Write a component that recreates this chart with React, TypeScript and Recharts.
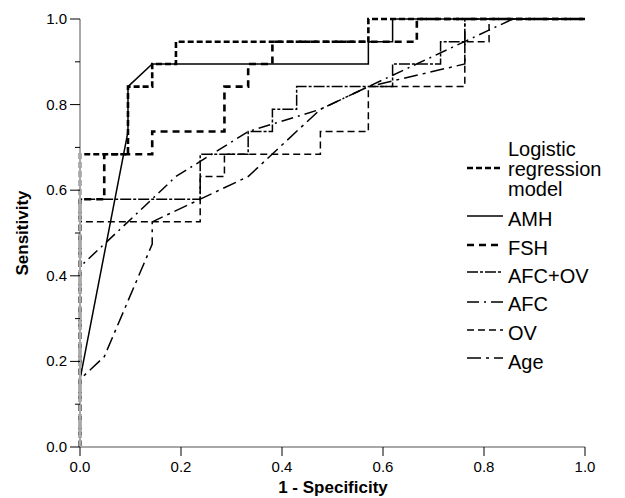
import { LineChart, Line, XAxis, YAxis } from "recharts";

type Pt = [number, number];

// ROC points: [1 - specificity, sensitivity]
const logistic: Pt[] = [
  [0, 0], [0, 0.684], [0.095, 0.684], [0.095, 0.842], [0.143, 0.842], [0.143, 0.895],
  [0.19, 0.895], [0.19, 0.947], [0.571, 0.947], [0.571, 1], [1, 1],
];
const amh: Pt[] = [
  [0, 0], [0, 0.158], [0.095, 0.737], [0.095, 0.842], [0.143, 0.895], [0.571, 0.895],
  [0.571, 0.947], [0.619, 0.947], [0.619, 1], [1, 1],
];
const fsh: Pt[] = [
  [0, 0], [0, 0.579], [0.048, 0.579], [0.048, 0.684], [0.143, 0.684], [0.143, 0.737],
  [0.286, 0.737], [0.286, 0.842], [0.333, 0.842], [0.333, 0.895], [0.381, 0.895],
  [0.381, 0.947], [0.667, 0.947], [0.667, 1], [1, 1],
];
const afcOv: Pt[] = [
  [0, 0], [0, 0.579], [0.238, 0.579], [0.238, 0.684], [0.333, 0.684], [0.333, 0.737],
  [0.381, 0.737], [0.381, 0.789], [0.429, 0.789], [0.429, 0.842], [0.619, 0.842],
  [0.619, 0.895], [0.714, 0.895], [0.714, 0.947], [0.762, 0.947], [0.762, 1], [1, 1],
];
const afc: Pt[] = [
  [0, 0], [0, 0.421], [0.095, 0.526], [0.19, 0.632], [0.333, 0.737], [0.476, 0.789],
  [0.571, 0.842], [0.857, 1], [1, 1],
];
const ov: Pt[] = [
  [0, 0], [0, 0.526], [0.238, 0.526], [0.238, 0.632], [0.286, 0.632], [0.286, 0.684],
  [0.476, 0.684], [0.476, 0.737], [0.571, 0.737], [0.571, 0.842], [0.762, 0.842],
  [0.762, 0.947], [0.81, 0.947], [0.81, 1], [1, 1],
];
const age: Pt[] = [
  [0, 0], [0, 0.158], [0.048, 0.211], [0.143, 0.474], [0.143, 0.526], [0.238, 0.579],
  [0.333, 0.632], [0.476, 0.789], [0.571, 0.842], [0.762, 0.895], [0.762, 1], [1, 1],
];

const xTicks = [0, 0.2, 0.4, 0.6, 0.8, 1];
const yTicks = [0, 0.1, 0.2, 0.3, 0.4, 0.5, 0.6, 0.7, 0.8, 0.9, 1];

const W = 617;
const H = 490;
const LEFT = 72;
const BOTTOM = 439;
const FONT = "Arial, 'Liberation Sans', sans-serif";

const series = [
  { key: "logistic", label: ["Logistic", "regression", "model"], data: logistic, width: 2.6, dash: "6 3" },
  { key: "amh", label: ["AMH"], data: amh, width: 1.5, dash: undefined },
  { key: "fsh", label: ["FSH"], data: fsh, width: 2.6, dash: "7 5" },
  { key: "afcov", label: ["AFC+OV"], data: afcOv, width: 1.5, dash: "11 2 3 2" },
  { key: "afc", label: ["AFC"], data: afc, width: 1.5, dash: "12 5 2 5" },
  { key: "ov", label: ["OV"], data: ov, width: 1.5, dash: "7 4" },
  { key: "age", label: ["Age"], data: age, width: 1.5, dash: "14 5 3 5" },
];

const rows = (pts: Pt[]) => pts.map(([x, y]) => ({ x, y }));

function YTick(props: any) {
  const { y, payload } = props;
  const major = Math.round(payload.value * 10) % 2 === 0;
  return (
    <g>
      <line x1={LEFT - (major ? 10 : 5)} x2={LEFT} y1={y} y2={y} stroke="#000" strokeWidth={1} />
      {major && (
        <text x={LEFT - 13} y={y + 5} textAnchor="end" fontSize={15} fontFamily={FONT} fill="#000">
          {payload.value.toFixed(1)}
        </text>
      )}
    </g>
  );
}

function XTick(props: any) {
  const { x, payload } = props;
  return (
    <g>
      <line x1={x} x2={x} y1={BOTTOM} y2={BOTTOM + 9} stroke="#000" strokeWidth={1} />
      <text x={x} y={BOTTOM + 25} textAnchor="middle" fontSize={15} fontFamily={FONT} fill="#000">
        {payload.value.toFixed(1)}
      </text>
    </g>
  );
}

// legend rows: baseline of each text line (chart coords)
const legendRows = [
  { lines: [148, 168, 188], lineY: 160 },
  { lines: [218], lineY: 208 },
  { lines: [247], lineY: 237 },
  { lines: [275], lineY: 264 },
  { lines: [303], lineY: 294 },
  { lines: [332], lineY: 322 },
  { lines: [361], lineY: 350 },
];

export default function App() {
  return (
    <div style={{ position: "relative", width: W, height: H }}>
      <LineChart width={W} height={H} margin={{ top: 11, right: 40, left: 0, bottom: 11 }}>
        <XAxis
          dataKey="x"
          type="number"
          domain={[0, 1]}
          ticks={xTicks}
          interval={0}
          height={40}
          tickLine={false}
          tick={<XTick />}
          axisLine={{ stroke: "#a8a8a8", strokeWidth: 2 }}
        />
        <YAxis
          type="number"
          domain={[0, 1]}
          ticks={yTicks}
          interval={0}
          width={72}
          tickLine={false}
          tick={<YTick />}
          axisLine={{ stroke: "#a8a8a8", strokeWidth: 2 }}
        />
        {series.map((s) => (
          <Line
            key={s.key}
            data={rows(s.data)}
            dataKey="y"
            type="linear"
            stroke="#000"
            strokeWidth={s.width}
            strokeDasharray={s.dash}
            dot={false}
            activeDot={false}
            isAnimationActive={false}
          />
        ))}
      </LineChart>
      <svg
        width={W}
        height={H}
        style={{ position: "absolute", left: 0, top: 0, pointerEvents: "none" }}
        fontFamily={FONT}
      >
        <text
          x={0}
          y={0}
          transform={`translate(20, 225) rotate(-90)`}
          textAnchor="middle"
          fontSize={17}
          fontWeight="bold"
        >
          Sensitivity
        </text>
        <text x={325} y={485} textAnchor="middle" fontSize={17} fontWeight="bold">
          1 - Specificity
        </text>
        {series.map((s, i) => {
          const r = legendRows[i];
          return (
            <g key={s.key}>
              <line
                x1={459}
                x2={495}
                y1={r.lineY}
                y2={r.lineY}
                stroke="#000"
                strokeWidth={s.width}
                strokeDasharray={s.dash}
              />
              {s.label.map((t, j) => (
                <text key={t} x={500} y={r.lines[j]} fontSize={20} fill="#000">
                  {t}
                </text>
              ))}
            </g>
          );
        })}
      </svg>
    </div>
  );
}
